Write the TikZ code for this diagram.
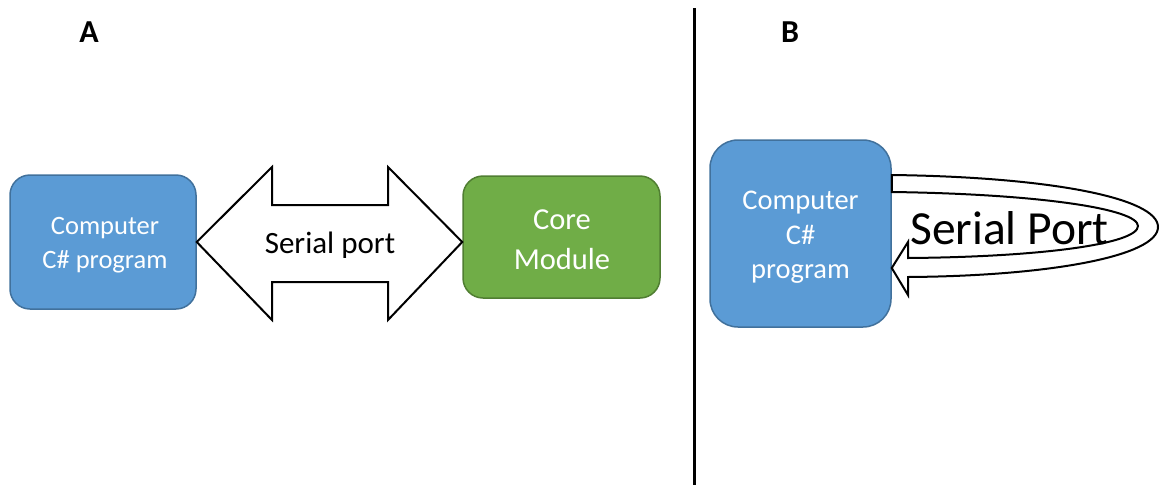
\documentclass[tikz,border=0pt]{standalone}
\usepackage{fontspec}
\setmainfont{Carlito}
\usetikzlibrary{calc}
\definecolor{bluefill}{HTML}{5B9BD5}
\definecolor{blueline}{HTML}{41719C}
\definecolor{greenfill}{HTML}{70AD47}
\definecolor{greenline}{HTML}{507E32}
\tikzset{
  bluebox/.style={draw=blueline, fill=bluefill, line width=1.5pt, rounded corners=20pt},
  greenbox/.style={draw=greenline, fill=greenfill, line width=1.5pt, rounded corners=20pt},
  boxtext/.style={text=white, align=center, inner sep=0pt},
  bigarrow/.style={draw=black, fill=white, line width=2pt, line join=miter},
  panellabel/.style={font=\fontsize{32}{38}\selectfont\bfseries, inner sep=0pt}
}
\begin{document}
\begin{tikzpicture}[x=1pt, y=-1pt]
  \useasboundingbox (0,0) rectangle (1162,485);

  % panel labels and divider
  \node[panellabel] (la) at (89,32) {A};
  \node[panellabel] (lb) at (790,32) {B};
  \coordinate (divtop) at (694,8);
  \coordinate (divbot) at (694,485);
  \draw[line width=3pt] (divtop) -- (divbot);

  % panel A
  \node[bluebox, minimum width=186pt, minimum height=134pt] (pc) at (103,242) {};
  \node[boxtext, font=\fontsize{26.5}{34}\selectfont] (pctext) at (105,245) {Computer\\C\# program};
  \node[greenbox, minimum width=197pt, minimum height=122pt] (core) at (561.5,237) {};
  \node[boxtext, font=\fontsize{30.5}{40}\selectfont] (coretext) at (562,240) {Core\\Module};

  \coordinate (tipL) at (pc.east);
  \coordinate (tipR) at (core.west |- pc.east);
  \draw[bigarrow] (tipL) -- (272,167) -- (272,205) -- (388,205) -- (388,167)
    -- (tipR) -- (388,320) -- (388,282) -- (272,282) -- (272,320) -- cycle;
  \node[font=\fontsize{31}{36}\selectfont, inner sep=0pt] (sp) at (330,245) {Serial port};

  % panel B
  \node[bluebox, rounded corners=28pt, minimum width=181pt, minimum height=187pt] (pc2) at (800.5,233.5) {};
  \node[boxtext, font=\fontsize{28.5}{34.5}\selectfont] (pc2text) at (800.5,237.5) {Computer\\C\#\\program};

  % U-turn arrow leaving and re-entering the computer box
  \coordinate (outA) at (pc2.east |- 0,175);
  \coordinate (inA) at (pc2.east |- 0,192);
  \coordinate (tipB) at (pc2.east |- 0,268);
  \draw[bigarrow] (outA)
      .. controls (1050,177) and (1158,198) .. (1158,227)
      .. controls (1158,256) and (1050,276) .. (908,277)
      -- (908,295) -- (tipB) -- (908,242) -- (908,258)
      .. controls (1040,257) and (1138,244) .. (1138,226)
      .. controls (1138,209) and (1040,194) .. (inA) -- cycle;
  \node[font=\fontsize{47.5}{52}\selectfont, inner sep=0pt, anchor=base west] (sp2) at (910,244) {Serial Port};
\end{tikzpicture}
\end{document}
